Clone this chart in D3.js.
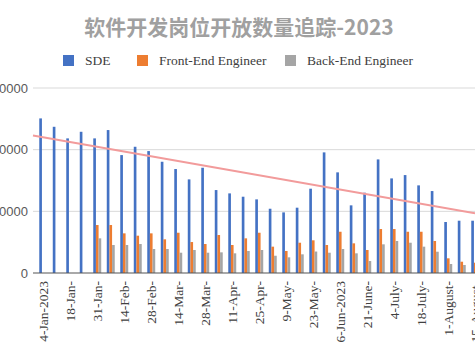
<!DOCTYPE html>
<html>
<head>
<meta charset="utf-8">
<script src="https://cdn.jsdelivr.net/npm/d3@7"></script>
<style>
  html, body { margin: 0; padding: 0; background: #fff; }
  svg { display: block; }
</style>
</head>
<body>
<svg id="chart" width="475" height="356"></svg>
<script>
const title = "软件开发岗位开放数量追踪-2023";
const categories = ["4-Jan-2023","11-Jan-","18-Jan-","25-Jan-","31-Jan-","7-Feb-","14-Feb-","21-Feb-","28-Feb-","7-Mar-","14-Mar-","21-Mar-","28-Mar-","4-Apr-","11-Apr-","18-Apr-","25-Apr-","2-May-","9-May-","16-May-","23-May-","30-May-","6-Jun-2023","13-Jun-","21-June-","27-June-","4-July-","11-July-","18-July-","25-July-","1-August-","8-August-","15-August-"];
const seriesNames = ["SDE", "Front-End Engineer", "Back-End Engineer"];
const sde = [25070,23710,21830,22900,21830,23180,19120,20470,19770,18040,16860,15180,17070,13450,12910,12370,11940,10420,9830,10590,13670,19560,16320,10970,13020,18420,15340,15880,14210,13290,8270,8480,8480];
const frontEnd = [0,0,0,0,7780,7780,6430,6050,6430,5460,6530,5020,4700,6160,4540,5620,6530,4270,3570,4910,5300,4540,6690,4810,3730,7130,7130,6690,6690,5190,2380,1830,1670];
const backEnd = [0,0,0,0,5620,4540,4540,4700,3890,3890,3290,3730,3290,3350,3190,3570,3730,2800,2540,3030,3480,3290,3890,3190,1940,4650,5190,4910,4270,3450,1460,1300,1200];
const yTicks = [0, 10000, 20000, 30000];
const colors = ["#4472c4", "#ed7d31", "#a5a5a5"];
const trendColor = "#f29b9b";

const svg = d3.select("#chart");
const plotLeft = 33, plotRight = 475, plotTop = 88, plotBottom = 273;

const x = d3.scaleBand().domain(categories).range([36.5, 36.5 + categories.length * 13.5]).paddingInner(0.41).paddingOuter(0.205);
const sub = d3.scaleBand().domain(seriesNames).range([0, x.bandwidth()]);
const y = d3.scaleLinear().domain([0, 30000]).range([plotBottom, plotTop]);

// title
svg.append("text").attr("x", 239).attr("y", 35).attr("text-anchor", "middle")
  .attr("font-family", "'Noto Sans CJK SC', sans-serif").attr("font-weight", "bold")
  .attr("font-size", 21).attr("fill", "#a0a0a0").text(title);

// legend
const legendX = [63, 137, 285];
const lg = svg.append("g");
seriesNames.forEach((n, i) => {
  lg.append("rect").attr("x", legendX[i]).attr("y", 55).attr("width", 11).attr("height", 11).attr("fill", colors[i]);
  lg.append("text").attr("x", legendX[i] + 22).attr("y", 65)
    .attr("font-family", "'Liberation Serif', 'Times New Roman', serif").attr("font-size", 13.5)
    .attr("fill", "#404040").text(n);
});

// gridlines
svg.append("g").selectAll("line").data(yTicks.filter(d => d > 0)).join("line")
  .attr("x1", plotLeft).attr("x2", plotRight).attr("y1", d => y(d)).attr("y2", d => y(d))
  .attr("stroke", "#d9d9d9").attr("stroke-width", 1);

// y axis labels (the reference is cropped at its left edge)
const yAxis = svg.append("g").attr("transform", `translate(28,0)`)
  .call(d3.axisLeft(y).tickValues(yTicks).tickSize(0).tickPadding(0).tickFormat(d3.format("d")));
yAxis.select(".domain").remove();
yAxis.selectAll("text").attr("font-family", "'Liberation Sans', Arial, sans-serif").attr("font-size", 13).attr("fill", "#595959");

// bars
const data = categories.map((c, i) => ({ c, vals: [sde[i], frontEnd[i], backEnd[i]] }));
const groups = svg.append("g").selectAll("g").data(data).join("g")
  .attr("transform", d => `translate(${x(d.c)},0)`);
groups.selectAll("rect").data(d => d.vals.map((v, k) => ({ k, v }))).join("rect")
  .attr("x", d => sub(seriesNames[d.k]))
  .attr("width", sub.bandwidth())
  .attr("y", d => y(d.v))
  .attr("height", d => y(0) - y(d.v))
  .attr("fill", d => colors[d.k]);

// x axis
const xAxis = svg.append("g").attr("transform", `translate(0,${plotBottom})`)
  .call(d3.axisBottom(x).tickValues(categories.filter((d, i) => i % 2 === 0)).tickSize(0).tickPadding(0));
xAxis.select(".domain").remove();
svg.append("line").attr("x1", plotLeft).attr("x2", plotRight).attr("y1", plotBottom).attr("y2", plotBottom)
  .attr("stroke", "#555").attr("stroke-width", 1.2);
xAxis.selectAll("text")
  .attr("font-family", "'Liberation Serif', 'Times New Roman', serif").attr("font-size", 13.5).attr("fill", "#404040")
  .attr("transform", "rotate(-90)").attr("text-anchor", "end")
  .attr("x", -8).attr("y", 0).attr("dy", "0.35em");

// linear trendline for SDE (least squares)
const n = sde.length;
const idx = d3.range(n);
const mx = d3.mean(idx), my = d3.mean(sde);
const slope = d3.sum(idx, i => (i - mx) * (sde[i] - my)) / d3.sum(idx, i => (i - mx) ** 2);
const icpt = my - slope * mx;
const step = x.step();
const c0 = x(categories[0]) + x.bandwidth() / 2;
const idxAt = px => (px - c0) / step;
svg.append("line")
  .attr("x1", plotLeft).attr("y1", y(icpt + slope * idxAt(plotLeft)))
  .attr("x2", plotRight).attr("y2", y(icpt + slope * idxAt(plotRight)))
  .attr("stroke", trendColor).attr("stroke-width", 2);
</script>
</body>
</html>
